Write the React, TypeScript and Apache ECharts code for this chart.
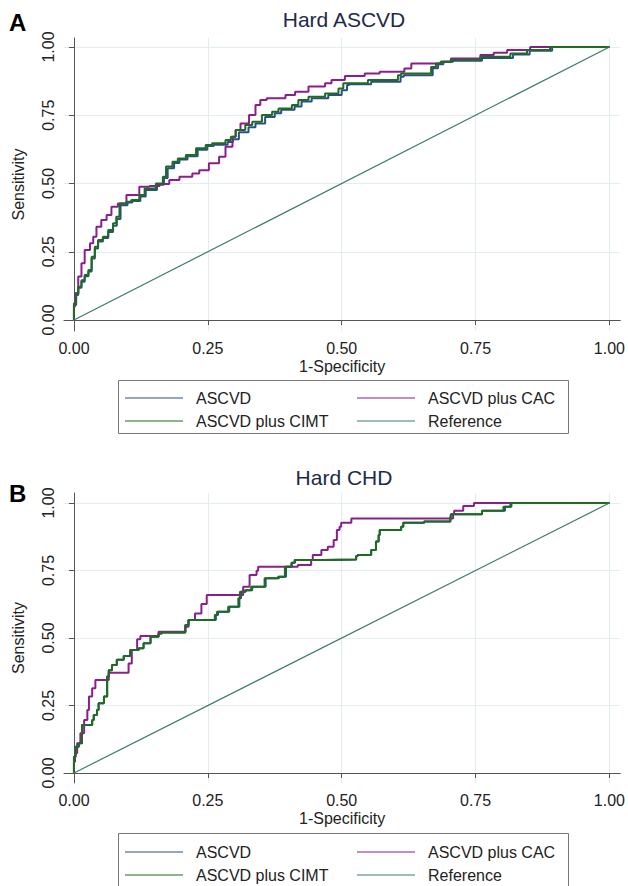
import React, { useEffect, useRef } from "react";
import * as echarts from "echarts";

// ---------- data (1-Specificity, Sensitivity) ----------
const tickValues = [0, 0.25, 0.5, 0.75, 1];

const seriesNames = ["ASCVD", "ASCVD plus CAC", "ASCVD plus CIMT", "Reference"];

// Panel A: Hard ASCVD
const aAscvd: number[][] = [
  [0, 0], [0.004, 0.055], [0.008, 0.092], [0.014, 0.118], [0.02, 0.14], [0.027, 0.16], [0.033, 0.178],
  [0.039, 0.225], [0.045, 0.262], [0.054, 0.288], [0.064, 0.3], [0.073, 0.322], [0.08, 0.345],
  [0.087, 0.37], [0.1, 0.42], [0.109, 0.43], [0.124, 0.436], [0.134, 0.452], [0.155, 0.476],
  [0.168, 0.495], [0.175, 0.52], [0.187, 0.556], [0.197, 0.575], [0.212, 0.588], [0.231, 0.6],
  [0.249, 0.624], [0.261, 0.637], [0.287, 0.642], [0.297, 0.652], [0.308, 0.662], [0.326, 0.688],
  [0.339, 0.706], [0.357, 0.72], [0.375, 0.744], [0.387, 0.757], [0.412, 0.77], [0.425, 0.782],
  [0.444, 0.8], [0.475, 0.812], [0.5, 0.824], [0.51, 0.842], [0.514, 0.861], [0.555, 0.864],
  [0.61, 0.873], [0.616, 0.891], [0.67, 0.897], [0.68, 0.922], [0.69, 0.937], [0.708, 0.946],
  [0.762, 0.95], [0.82, 0.96], [0.851, 0.973], [0.893, 0.986], [0.906, 1], [1, 1],
];
const aCac: number[][] = [
  [0, 0], [0.002, 0.049], [0.008, 0.098], [0.014, 0.159], [0.02, 0.208], [0.03, 0.256], [0.036, 0.281],
  [0.042, 0.305], [0.051, 0.342], [0.061, 0.366], [0.07, 0.385], [0.082, 0.415], [0.098, 0.427],
  [0.122, 0.458], [0.141, 0.488], [0.16, 0.491], [0.178, 0.498], [0.197, 0.513], [0.221, 0.525],
  [0.234, 0.537], [0.252, 0.549], [0.271, 0.574], [0.283, 0.598], [0.296, 0.635], [0.302, 0.671],
  [0.311, 0.696], [0.327, 0.72], [0.339, 0.751], [0.348, 0.788], [0.36, 0.806], [0.395, 0.812],
  [0.413, 0.824], [0.438, 0.836], [0.469, 0.855], [0.481, 0.867], [0.506, 0.879], [0.543, 0.894],
  [0.571, 0.903], [0.617, 0.909], [0.63, 0.921], [0.642, 0.94], [0.685, 0.94], [0.704, 0.946],
  [0.759, 0.958], [0.784, 0.971], [0.809, 0.979], [0.852, 0.989], [0.861, 1], [1, 1],
];
const aCimt: number[][] = [
  [0, 0], [0.004, 0.061], [0.008, 0.098], [0.014, 0.122], [0.02, 0.146], [0.027, 0.165], [0.033, 0.183],
  [0.039, 0.232], [0.045, 0.268], [0.054, 0.293], [0.064, 0.305], [0.073, 0.33], [0.079, 0.354],
  [0.085, 0.378], [0.098, 0.427], [0.107, 0.433], [0.122, 0.44], [0.132, 0.458], [0.153, 0.482],
  [0.166, 0.5], [0.172, 0.525], [0.184, 0.562], [0.194, 0.58], [0.209, 0.592], [0.228, 0.604],
  [0.246, 0.629], [0.258, 0.641], [0.283, 0.647], [0.293, 0.659], [0.302, 0.671], [0.32, 0.696],
  [0.333, 0.714], [0.351, 0.726], [0.37, 0.751], [0.382, 0.763], [0.407, 0.775], [0.419, 0.788],
  [0.438, 0.806], [0.469, 0.818], [0.494, 0.83], [0.503, 0.848], [0.506, 0.867], [0.549, 0.867],
  [0.605, 0.879], [0.611, 0.897], [0.667, 0.903], [0.676, 0.927], [0.685, 0.94], [0.704, 0.946],
  [0.759, 0.952], [0.815, 0.964], [0.846, 0.976], [0.889, 0.989], [0.902, 1], [1, 1],
];

// Panel B: Hard CHD
const bAscvd: number[][] = [
  [0, 0], [0.003, 0.06], [0.009, 0.097], [0.015, 0.11], [0.02, 0.178], [0.034, 0.178], [0.037, 0.196],
  [0.043, 0.215], [0.046, 0.233], [0.056, 0.258], [0.062, 0.283], [0.065, 0.357], [0.071, 0.381],
  [0.08, 0.4], [0.093, 0.419], [0.105, 0.433], [0.121, 0.456], [0.13, 0.462], [0.143, 0.481],
  [0.158, 0.505], [0.164, 0.517], [0.208, 0.52], [0.214, 0.548], [0.226, 0.567], [0.265, 0.567],
  [0.269, 0.585], [0.29, 0.597], [0.293, 0.616], [0.309, 0.616], [0.312, 0.647], [0.321, 0.671],
  [0.333, 0.677], [0.358, 0.69], [0.383, 0.721], [0.396, 0.727], [0.407, 0.764], [0.413, 0.779],
  [0.468, 0.789], [0.527, 0.791], [0.53, 0.804], [0.555, 0.807], [0.564, 0.826], [0.569, 0.857],
  [0.571, 0.881], [0.574, 0.9], [0.611, 0.9], [0.615, 0.912], [0.654, 0.927], [0.703, 0.931],
  [0.704, 0.943], [0.762, 0.958], [0.805, 0.971], [0.817, 0.986], [0.835, 1], [1, 1],
];
const bCac: number[][] = [
  [0, 0], [0.002, 0.042], [0.006, 0.073], [0.012, 0.11], [0.019, 0.147], [0.025, 0.196], [0.028, 0.233],
  [0.034, 0.283], [0.04, 0.314], [0.05, 0.344], [0.065, 0.344], [0.068, 0.371], [0.102, 0.371],
  [0.108, 0.406], [0.118, 0.456], [0.124, 0.495], [0.158, 0.507], [0.177, 0.523], [0.208, 0.523],
  [0.214, 0.542], [0.226, 0.567], [0.238, 0.591], [0.248, 0.626], [0.276, 0.659], [0.316, 0.659],
  [0.328, 0.69], [0.341, 0.733], [0.344, 0.749], [0.381, 0.764], [0.418, 0.764], [0.443, 0.77],
  [0.446, 0.789], [0.462, 0.807], [0.474, 0.826], [0.485, 0.838], [0.491, 0.863], [0.496, 0.9],
  [0.499, 0.912], [0.518, 0.927], [0.564, 0.943], [0.708, 0.943], [0.71, 0.959], [0.727, 0.971],
  [0.747, 0.989], [0.827, 1], [1, 1],
];
const bCimt: number[][] = [
  [0, 0], [0.003, 0.06], [0.009, 0.097], [0.015, 0.11], [0.02, 0.178], [0.034, 0.178], [0.037, 0.196],
  [0.043, 0.215], [0.046, 0.233], [0.056, 0.258], [0.062, 0.283], [0.065, 0.357], [0.071, 0.381],
  [0.08, 0.4], [0.093, 0.419], [0.105, 0.433], [0.121, 0.456], [0.13, 0.462], [0.143, 0.481],
  [0.158, 0.505], [0.164, 0.517], [0.208, 0.52], [0.214, 0.548], [0.226, 0.567], [0.263, 0.567],
  [0.267, 0.585], [0.288, 0.597], [0.291, 0.616], [0.307, 0.616], [0.31, 0.647], [0.319, 0.671],
  [0.331, 0.677], [0.356, 0.69], [0.381, 0.721], [0.394, 0.727], [0.406, 0.764], [0.412, 0.779],
  [0.468, 0.789], [0.527, 0.791], [0.53, 0.804], [0.555, 0.807], [0.564, 0.826], [0.569, 0.857],
  [0.571, 0.881], [0.574, 0.9], [0.611, 0.9], [0.615, 0.912], [0.654, 0.927], [0.703, 0.931],
  [0.704, 0.943], [0.762, 0.958], [0.802, 0.971], [0.815, 0.986], [0.833, 1], [1, 1],
];
const diagonal: number[][] = [[0, 0], [1, 1]];

const panelTitles = ["Hard ASCVD", "Hard CHD"];
const panelLetters = ["A", "B"];

const colors = {
  ascvd: "#2a4f86",
  cac: "#8a1f8c",
  cimt: "#1f6b1f",
  ref: "#3c7c6c",
};

const FONT = "'Liberation Sans', Arial, Helvetica, sans-serif";

function isTick(v: number) {
  const k = v / 0.25;
  return Math.abs(k - Math.round(k)) < 1e-6;
}

function makeXAxis(gridIndex: number) {
  return {
    type: "value",
    gridIndex,
    min: -0.0186,
    max: 1.0204,
    minInterval: 0.25,
    maxInterval: 0.25,
    name: "1-Specificity",
    nameLocation: "middle",
    nameGap: 27,
    nameTextStyle: { fontSize: 16, color: "#222", fontFamily: FONT },
    axisLine: { show: true, lineStyle: { color: "#555", width: 1 } },
    axisTick: { show: true, length: 5, inside: false, customValues: tickValues, lineStyle: { color: "#555" } },
    axisLabel: {
      customValues: tickValues,
      fontSize: 16,
      color: "#222",
      fontFamily: FONT,
      margin: 9,
      formatter: (v: number) => (isTick(v) ? v.toFixed(2) : ""),
    },
    splitLine: { show: true, lineStyle: { color: "#e2edef", width: 1 } },
  };
}

function makeYAxis(gridIndex: number, min: number, max: number) {
  return {
    type: "value",
    gridIndex,
    min,
    max,
    minInterval: 0.25,
    maxInterval: 0.25,
    name: "Sensitivity",
    nameLocation: "middle",
    nameGap: 38,
    nameTextStyle: { fontSize: 16, color: "#222", fontFamily: FONT },
    axisLine: { show: true, lineStyle: { color: "#555", width: 1 } },
    axisTick: { show: true, length: 5, inside: false, customValues: tickValues, lineStyle: { color: "#555" } },
    axisLabel: {
      customValues: tickValues,
      rotate: 90,
      fontSize: 16,
      color: "#222",
      fontFamily: FONT,
      margin: 8,
      formatter: (v: number) => (isTick(v) ? v.toFixed(2) : ""),
    },
    splitLine: { show: true, lineStyle: { color: "#e2edef", width: 1 } },
  };
}

function curve(name: string, data: number[][], idx: number, color: string, width: number, stepped: boolean) {
  return {
    type: "line",
    name,
    data,
    xAxisIndex: idx,
    yAxisIndex: idx,
    symbol: "none",
    showSymbol: false,
    step: stepped ? "start" : false,
    lineStyle: { color, width },
    itemStyle: { color },
    emphasis: { disabled: true },
  };
}

function legendPair(names: string[], left: number, top: number) {
  return {
    orient: "vertical",
    left,
    top,
    padding: 0,
    data: names,
    itemWidth: 58,
    itemHeight: 14,
    itemGap: 7,
    icon: "path://M0,6.5 L58,6.5 L58,7.5 L0,7.5 Z",
    textStyle: { fontSize: 16, lineHeight: 16, color: "#222", fontFamily: FONT, padding: [0, 0, 0, 8] },
    selectedMode: false,
  };
}

export default function App() {
  const ref = useRef<HTMLDivElement>(null);

  useEffect(() => {
    if (!ref.current) return;
    const chart = echarts.init(ref.current, null, { renderer: "svg" });
    const option = {
      animation: false,
      backgroundColor: "#ffffff",
      title: [
        { text: panelLetters[0], left: 9, top: 10, padding: 0, textStyle: { fontSize: 24, fontWeight: "bold", color: "#000", fontFamily: FONT } },
        { text: panelTitles[0], left: 344, top: 9, padding: 0, textAlign: "center", textStyle: { fontSize: 21, fontWeight: "normal", color: "#1e2a4a", fontFamily: FONT } },
        { text: panelLetters[1], left: 9, top: 481, padding: 0, textStyle: { fontSize: 24, fontWeight: "bold", color: "#000", fontFamily: FONT } },
        { text: panelTitles[1], left: 344, top: 467, padding: 0, textAlign: "center", textStyle: { fontSize: 21, fontWeight: "normal", color: "#1e2a4a", fontFamily: FONT } },
      ],
      grid: [
        { left: 64, top: 38, width: 560, height: 293, containLabel: false },
        { left: 64, top: 493, width: 560, height: 290, containLabel: false },
      ],
      xAxis: [makeXAxis(0), makeXAxis(1)],
      yAxis: [makeYAxis(0, -0.0403, 1.033), makeYAxis(1, -0.037, 1.037)],
      legend: [
        legendPair([seriesNames[0], seriesNames[2]], 125, 390),
        legendPair([seriesNames[1], seriesNames[3]], 357, 390),
        legendPair([seriesNames[0], seriesNames[2]], 125, 844),
        legendPair([seriesNames[1], seriesNames[3]], 357, 844),
      ],
      graphic: [
        { type: "rect", shape: { x: 118.5, y: 380.5, width: 450, height: 53 }, style: { fill: "none", stroke: "#777", lineWidth: 1 }, silent: true },
        { type: "rect", shape: { x: 118.5, y: 833.5, width: 450, height: 60 }, style: { fill: "none", stroke: "#777", lineWidth: 1 }, silent: true },
      ],
      series: [
        curve(seriesNames[0], aAscvd, 0, colors.ascvd, 2, true),
        curve(seriesNames[1], aCac, 0, colors.cac, 2, true),
        curve(seriesNames[2], aCimt, 0, colors.cimt, 2, true),
        curve(seriesNames[3], diagonal, 0, colors.ref, 1.2, false),
        curve(seriesNames[0], bAscvd, 1, colors.ascvd, 2, true),
        curve(seriesNames[1], bCac, 1, colors.cac, 2, true),
        curve(seriesNames[2], bCimt, 1, colors.cimt, 2, true),
        curve(seriesNames[3], diagonal, 1, colors.ref, 1.2, false),
      ],
    };
    chart.setOption(option as any);
    return () => chart.dispose();
  }, []);

  return (
    <div
      ref={ref}
      style={{ position: "absolute", left: 0, top: 0, width: 628, height: 886, background: "#fff" }}
    />
  );
}
